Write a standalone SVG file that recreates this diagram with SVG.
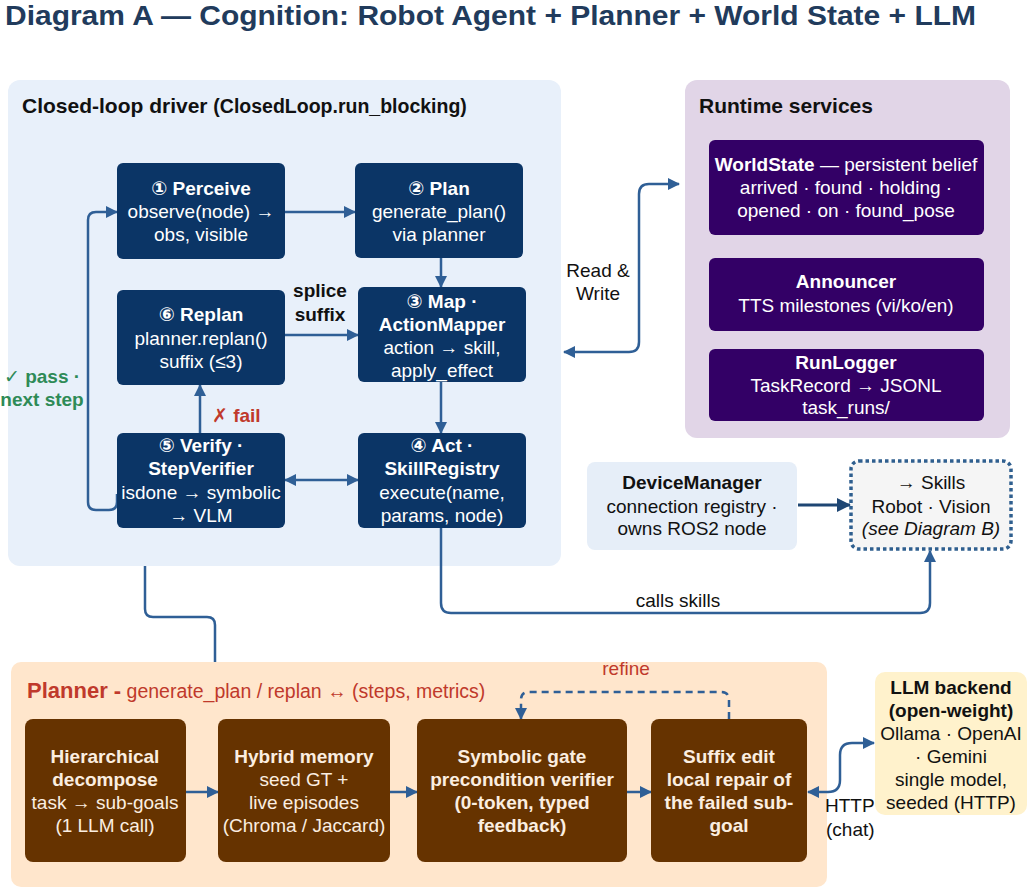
<svg xmlns="http://www.w3.org/2000/svg" width="1028" height="888" viewBox="0 0 1028 888">
<style>
text{font-family:"Liberation Sans",Arial,"DejaVu Sans",sans-serif;font-size:19px}
.b{font-weight:bold}
.c{text-anchor:middle}
.w{fill:#ffffff}
.k{fill:#111111}
.cr{fill:#fbeee0}
.navy{fill:#0b3566}
.purp{fill:#330066}
.brown{fill:#663300}
.ln{fill:none;stroke:#2f5f96;stroke-width:2.5}
</style>
<defs>
<marker id="a" viewBox="0 0 12 12" refX="11" refY="6" markerWidth="12" markerHeight="12" markerUnits="userSpaceOnUse" orient="auto-start-reverse"><path d="M0,0 L12,6 L0,12 z" fill="#2f5f96"/></marker>
<marker id="ad" viewBox="0 0 14 14" refX="13" refY="7" markerWidth="14" markerHeight="14" markerUnits="userSpaceOnUse" orient="auto-start-reverse"><path d="M0,0 L14,7 L0,14 z" fill="#1e4673"/></marker>
</defs>
<rect width="1028" height="888" fill="#ffffff"/>
<text x="5" y="25" class="b" style="font-size:27px" textLength="971" lengthAdjust="spacingAndGlyphs" fill="#213b5c">Diagram A — Cognition: Robot Agent + Planner + World State + LLM</text>

<g id="panel-closed-loop">
<rect x="8" y="80" width="553" height="486" rx="12" fill="#e8f0fa"/>
<text x="22" y="113" class="b k" style="font-size:21px">Closed-loop driver <tspan style="font-size:19.5px">(ClosedLoop.run_blocking)</tspan></text>
</g>
<g id="panel-runtime">
<rect x="685" y="80" width="325" height="358" rx="12" fill="#e1d5e7"/>
<text x="699" y="113" class="b k" style="font-size:21px">Runtime services</text>
</g>
<g id="panel-planner">
<rect x="11" y="662" width="816" height="225" rx="10" fill="#ffe6cc"/>
<text x="27" y="698" fill="#c0392b" style="font-size:19.5px"><tspan class="b" style="font-size:22px;font-weight:900">Planner -</tspan> generate_plan / replan ↔ (steps, metrics)</text>
</g>

<g id="connectors">
<path class="ln" d="M285 212 H355" marker-end="url(#a)"/>
<path class="ln" d="M441 258 V287" marker-end="url(#a)"/>
<path class="ln" d="M285 335 H358" marker-end="url(#a)"/>
<path class="ln" d="M441 382 V433" marker-end="url(#a)"/>
<path class="ln" d="M285 480 H358" marker-start="url(#a)" marker-end="url(#a)"/>
<path class="ln" d="M200 433 V385" marker-end="url(#a)"/>
<path class="ln" d="M117 494 V502 Q117 510 109 510 H96 Q88 510 88 502 V220 Q88 212 96 212 H117" marker-end="url(#a)"/>
<path class="ln" d="M564 352 H629 Q639 352 639 342 V194 Q639 184 649 184 H679" marker-start="url(#a)" marker-end="url(#a)"/>
<path class="ln" d="M441 528 V603 Q441 613 451 613 H920 Q930 613 930 603 V551" marker-end="url(#a)"/>
<path fill="none" stroke="#1e4673" stroke-width="3" d="M798 505 H850" marker-end="url(#ad)"/>
<path class="ln" d="M145 566 V609 Q145 617 153 617 H207 Q215 617 215 625 V662"/>
<path class="ln" d="M186 792 H218" marker-end="url(#a)"/>
<path class="ln" d="M390 792 H417" marker-end="url(#a)"/>
<path class="ln" d="M627 792 H651" marker-end="url(#a)"/>
<path class="ln" stroke-dasharray="7 5" d="M729 719 V700 Q729 692 721 692 H529 Q521 692 521 700 V719" marker-end="url(#a)"/>
<path class="ln" d="M808 792 H828 Q840 792 840 780 V755 Q840 743 852 743 H874" marker-start="url(#a)" marker-end="url(#a)"/>
<text x="598" y="277" class="c k">Read &amp;</text>
<text x="598" y="300" class="c k">Write</text>
<text x="320" y="297" class="c b k">splice</text>
<text x="320" y="321" class="c b k">suffix</text>
<text x="212" y="422" class="b" fill="#c0392b">✗ fail</text>
<text x="42" y="383" class="c b" fill="#2e8b57">✓ pass ·</text>
<text x="42" y="406" class="c b" fill="#2e8b57">next step</text>
<text x="678" y="607" class="c k">calls skills</text>
<text x="626" y="675" class="c" fill="#c0392b">refine</text>
<text x="825" y="812" class="k">HTTP</text>
<text x="826" y="836" class="k">(chat)</text>
</g>

<g id="n-perceive">
<rect x="117" y="163" width="168" height="96" rx="6" class="navy"/>
<text x="201" y="195" class="c b w">① Perceive</text>
<text x="201" y="218" class="c w">observe(node) →</text>
<text x="201" y="241" class="c w">obs, visible</text>
</g>
<g id="n-plan">
<rect x="355" y="163" width="168" height="95" rx="6" class="navy"/>
<text x="439" y="195" class="c b w">② Plan</text>
<text x="439" y="218" class="c w">generate_plan()</text>
<text x="439" y="241" class="c w">via planner</text>
</g>
<g id="n-replan">
<rect x="117" y="290" width="168" height="95" rx="6" class="navy"/>
<text x="201" y="321" class="c b w">⑥ Replan</text>
<text x="201" y="345" class="c w">planner.replan()</text>
<text x="201" y="368" class="c w">suffix (≤3)</text>
</g>
<g id="n-map">
<rect x="358" y="287" width="168" height="95" rx="6" class="navy"/>
<text x="442" y="308" class="c b w">③ Map ·</text>
<text x="442" y="331" class="c b w">ActionMapper</text>
<text x="442" y="354" class="c w">action → skill,</text>
<text x="442" y="377" class="c w">apply_effect</text>
</g>
<g id="n-verify">
<rect x="117" y="433" width="168" height="95" rx="6" class="navy"/>
<text x="201" y="452" class="c b w">⑤ Verify ·</text>
<text x="201" y="475" class="c b w">StepVerifier</text>
<text x="201" y="499" class="c w">isdone → symbolic</text>
<text x="201" y="522" class="c w">→ VLM</text>
</g>
<g id="n-act">
<rect x="358" y="433" width="168" height="95" rx="6" class="navy"/>
<text x="442" y="452" class="c b w">④ Act ·</text>
<text x="442" y="475" class="c b w">SkillRegistry</text>
<text x="442" y="499" class="c w">execute(name,</text>
<text x="442" y="522" class="c w">params, node)</text>
</g>

<g id="n-worldstate">
<rect x="709" y="140" width="275" height="95" rx="6" class="purp"/>
<text x="846" y="171" class="c w"><tspan class="b">WorldState</tspan> — persistent belief</text>
<text x="846" y="194" class="c w">arrived · found · holding ·</text>
<text x="846" y="217" class="c w">opened · on · found_pose</text>
</g>
<g id="n-announcer">
<rect x="709" y="258" width="275" height="73" rx="6" class="purp"/>
<text x="846" y="288" class="c b w">Announcer</text>
<text x="846" y="312" class="c w">TTS milestones (vi/ko/en)</text>
</g>
<g id="n-runlogger">
<rect x="709" y="349" width="275" height="72" rx="6" class="purp"/>
<text x="846" y="369" class="c b w">RunLogger</text>
<text x="846" y="392" class="c w">TaskRecord → JSONL</text>
<text x="846" y="414" class="c w">task_runs/</text>
</g>

<g id="n-devicemanager">
<rect x="587" y="462" width="210" height="88" rx="8" fill="#e6eef8"/>
<text x="692" y="489" class="c b k">DeviceManager</text>
<text x="692" y="513" class="c k">connection registry ·</text>
<text x="692" y="535" class="c k">owns ROS2 node</text>
</g>
<g id="n-skills">
<rect x="851" y="461" width="160" height="88" rx="8" fill="#f5f5f5" stroke="#2f5f8f" stroke-width="3.5" stroke-dasharray="3.5 3"/>
<text x="931" y="489" class="c k">→ Skills</text>
<text x="931" y="513" class="c k">Robot · Vision</text>
<text x="931" y="535" class="c k" font-style="italic">(see Diagram B)</text>
</g>

<g id="n-hier">
<rect x="25" y="719" width="161" height="143" rx="8" class="brown"/>
<text x="105" y="763" class="c b cr">Hierarchical</text>
<text x="105" y="786" class="c b cr">decompose</text>
<text x="105" y="809" class="c cr">task → sub-goals</text>
<text x="105" y="832" class="c cr">(1 LLM call)</text>
</g>
<g id="n-hybrid">
<rect x="218" y="719" width="172" height="143" rx="8" class="brown"/>
<text x="304" y="763" class="c b cr">Hybrid memory</text>
<text x="304" y="786" class="c cr">seed GT +</text>
<text x="304" y="809" class="c cr">live episodes</text>
<text x="304" y="832" class="c cr">(Chroma / Jaccard)</text>
</g>
<g id="n-symbolic">
<rect x="417" y="719" width="210" height="143" rx="8" class="brown"/>
<text x="522" y="763" class="c b cr">Symbolic gate</text>
<text x="522" y="786" class="c b cr">precondition verifier</text>
<text x="522" y="809" class="c b cr">(0-token, typed</text>
<text x="522" y="832" class="c b cr">feedback)</text>
</g>
<g id="n-suffix">
<rect x="651" y="719" width="156" height="143" rx="8" class="brown"/>
<text x="729" y="763" class="c b cr">Suffix edit</text>
<text x="729" y="786" class="c b cr">local repair of</text>
<text x="729" y="809" class="c b cr">the failed sub-</text>
<text x="729" y="832" class="c b cr">goal</text>
</g>
<g id="n-llm">
<rect x="875" y="672" width="152" height="143" rx="10" fill="#fff2cc"/>
<text x="951" y="694" class="c b k">LLM backend</text>
<text x="951" y="717" class="c b k">(open-weight)</text>
<text x="951" y="740" class="c k">Ollama · OpenAI</text>
<text x="951" y="763" class="c k">· Gemini</text>
<text x="951" y="786" class="c k">single model,</text>
<text x="951" y="809" class="c k">seeded (HTTP)</text>
</g>
</svg>
